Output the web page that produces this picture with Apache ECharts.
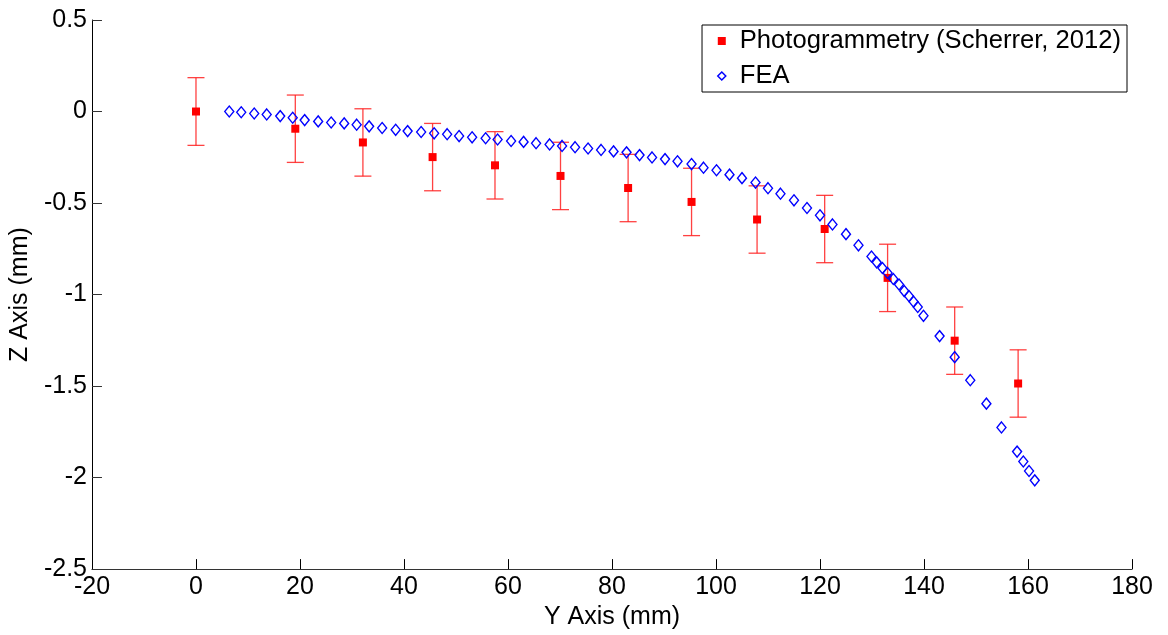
<!DOCTYPE html>
<html>
<head>
<meta charset="utf-8">
<script src="https://cdn.jsdelivr.net/npm/echarts@6/dist/echarts.min.js"></script>
<style>
html,body{margin:0;padding:0;background:#fff;}
#chart{width:1168px;height:635px;}
</style>
</head>
<body>
<div id="chart"></div>
<script>
// Photogrammetry (Scherrer, 2012): Y position (mm), Z displacement (mm), error (mm)
const photoY = [0, 19.1, 32.1, 45.5, 57.5, 70.1, 83.1, 95.3, 107.9, 120.9, 133.0, 145.9, 158.1];
const photoZ = [0, -0.094, -0.169, -0.249, -0.294, -0.352, -0.418, -0.494, -0.590, -0.642, -0.909, -1.252, -1.486];
const photoErr = [0.185, 0.184, 0.184, 0.184, 0.184, 0.184, 0.184, 0.184, 0.184, 0.184, 0.184, 0.184, 0.184];

// FEA: Y position (mm), Z displacement (mm)
const feaY = [6.4, 8.7, 11.2, 13.6, 16.2, 18.6, 20.9, 23.5, 26.0, 28.5, 30.9, 33.3, 35.8, 38.4, 40.7, 43.3, 45.8, 48.3, 50.6, 53.1,
  55.7, 58.0, 60.6, 63.0, 65.4, 68.0, 70.4, 72.9, 75.4, 77.9, 80.3, 82.8, 85.3, 87.7, 90.2, 92.6, 95.3, 97.6, 100.1, 102.6,
  105.0, 107.6, 110.0, 112.4, 115.0, 117.5, 120.0, 122.4, 125.0, 127.4, 129.9, 130.9, 132.0, 133.0, 134.1, 135.2, 136.2, 137.1, 138.0, 138.8,
  139.9, 143.0, 145.9, 148.9, 152.0, 154.9, 157.9, 159.1, 160.2, 161.3];
const feaZ = [0.000, -0.004, -0.011, -0.016, -0.025, -0.034, -0.047, -0.054, -0.060, -0.065, -0.072, -0.081, -0.090, -0.100, -0.107, -0.112, -0.119, -0.124, -0.134, -0.141,
  -0.146, -0.153, -0.161, -0.166, -0.173, -0.180, -0.188, -0.195, -0.202, -0.210, -0.218, -0.223, -0.238, -0.251, -0.260, -0.272, -0.287, -0.307, -0.321, -0.345,
  -0.364, -0.388, -0.419, -0.449, -0.485, -0.527, -0.567, -0.617, -0.670, -0.731, -0.792, -0.824, -0.855, -0.882, -0.915, -0.945, -0.981, -1.008, -1.039, -1.068,
  -1.116, -1.227, -1.342, -1.468, -1.596, -1.726, -1.858, -1.912, -1.964, -2.015];

// Axis ranges
const xAxisRange = { min: -20, max: 180, interval: 20 };
const yAxisRange = { min: -2.5, max: 0.5, interval: 0.5 };

const photoName = 'Photogrammetry (Scherrer, 2012)';
const feaName = 'FEA';

const photoData = photoY.map((y, i) => [y, photoZ[i]]);
const errData = photoY.map((y, i) => [y, photoZ[i] - photoErr[i], photoZ[i] + photoErr[i]]);
const feaData = feaY.map((y, i) => [y, feaZ[i]]);

const FONT = 'Liberation Sans, Arial, sans-serif';

const chart = echarts.init(document.getElementById('chart'), null, { renderer: 'canvas' });
chart.setOption({
  animation: false,
  backgroundColor: '#fff',
  grid: { left: 89, right: 36, top: 20, bottom: 61, containLabel: false },
  legend: {
    orient: 'vertical',
    right: 41,
    top: 25,
    padding: [3, 6, 3, 15],
    itemGap: 9,
    itemWidth: 8,
    itemHeight: 8,
    borderColor: '#000',
    borderWidth: 1,
    backgroundColor: '#fff',
    textStyle: { fontFamily: FONT, fontSize: 25.6, color: '#000', lineHeight: 25, padding: [0, 0, 0, 9] },
    data: [
      { name: photoName, icon: 'rect', itemStyle: { color: '#ff0000' } },
      { name: feaName, icon: 'diamond', itemStyle: { color: 'transparent', borderColor: '#0000ff', borderWidth: 1.5 } }
    ]
  },
  xAxis: {
    type: 'value',
    min: xAxisRange.min, max: xAxisRange.max, interval: xAxisRange.interval,
    name: 'Y Axis (mm)',
    nameLocation: 'middle',
    nameGap: 32,
    nameTextStyle: { fontFamily: FONT, fontSize: 25, color: '#000' },
    axisLine: { onZero: false, lineStyle: { color: '#333', width: 1.2 } },
    axisTick: { inside: true, length: 10, lineStyle: { color: '#000' } },
    axisLabel: { fontFamily: FONT, fontSize: 25, color: '#000', margin: 6 },
    splitLine: { show: false }
  },
  yAxis: {
    type: 'value',
    min: yAxisRange.min, max: yAxisRange.max, interval: yAxisRange.interval,
    name: 'Z Axis (mm)',
    nameLocation: 'middle',
    nameGap: 55,
    nameTextStyle: { fontFamily: FONT, fontSize: 25, color: '#000' },
    axisLine: { show: true, onZero: false, lineStyle: { color: '#000', width: 1 } },
    axisTick: { show: true, inside: true, length: 10, lineStyle: { color: '#333' } },
    axisLabel: { fontFamily: FONT, fontSize: 25, color: '#000', margin: 5 },
    splitLine: { show: false }
  },
  series: [
    {
      type: 'custom',
      name: 'errorbars',
      z: 1,
      data: errData,
      encode: { x: 0, y: [1, 2] },
      renderItem: function (params, api) {
        const x = api.value(0);
        const lo = api.coord([x, api.value(1)]);
        const hi = api.coord([x, api.value(2)]);
        const hw = 8.5;
        const style = { stroke: '#ff2020', lineWidth: 1.3, opacity: 0.85 };
        return {
          type: 'group',
          children: [
            { type: 'line', shape: { x1: lo[0], y1: lo[1], x2: hi[0], y2: hi[1] }, style: style },
            { type: 'line', shape: { x1: lo[0] - hw, y1: lo[1], x2: lo[0] + hw, y2: lo[1] }, style: style },
            { type: 'line', shape: { x1: hi[0] - hw, y1: hi[1], x2: hi[0] + hw, y2: hi[1] }, style: style }
          ]
        };
      }
    },
    {
      type: 'scatter',
      name: photoName,
      z: 2,
      data: photoData,
      symbol: 'rect',
      symbolSize: 8,
      itemStyle: { color: '#ff0000', opacity: 1 }
    },
    {
      type: 'scatter',
      name: feaName,
      z: 3,
      data: feaData,
      symbol: 'diamond',
      symbolSize: [9, 11],
      itemStyle: { color: 'transparent', borderColor: '#0000ff', borderWidth: 1.4, opacity: 1 }
    }
  ]
});
</script>
</body>
</html>
